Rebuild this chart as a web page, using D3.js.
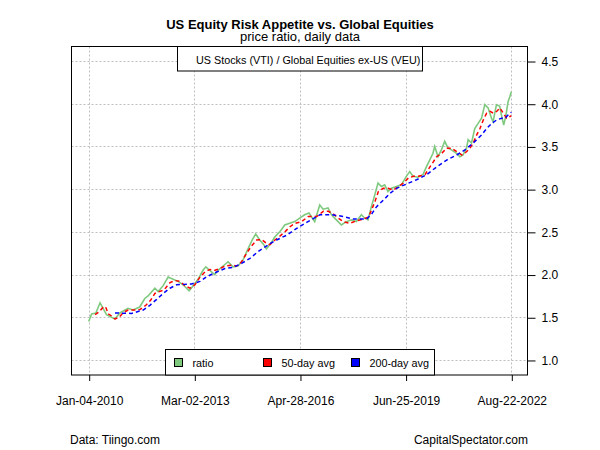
<!DOCTYPE html>
<html lang="en">
<head>
    <meta charset="UTF-8">
    <title>US Equity Risk Appetite vs. Global Equities</title>
    <style>
        body {
            margin: 0;
            background: #fff;
            font-family: "Liberation Sans", Arial, sans-serif;
        }
        .grid line {
            stroke: #bebebe;
            stroke-dasharray: 2,2;
        }
        .axis text {
            font-size: 12px;
            fill: #000;
        }
    </style>
</head>
<body>
    <svg width="600" height="450"></svg>

    <script src="https://d3js.org/d3.v7.min.js"></script>
    <script>
        // ratio of VTI / VEU
        const ratioDates = ["2010-01-04","2010-02-05","2010-03-23","2010-05-08","2010-06-10","2010-07-17","2010-08-22","2010-10-16","2010-12-10","2011-03-09","2011-05-03","2011-07-15","2011-09-08","2011-10-14","2011-12-27","2012-02-01","2012-03-27","2012-05-20","2012-07-13","2012-09-06","2012-10-30","2013-01-04","2013-02-17","2013-04-12","2013-06-05","2013-07-05","2013-08-17","2013-10-11","2013-11-16","2014-01-10","2014-03-05","2014-04-28","2014-06-22","2014-08-15","2014-10-09","2014-11-26","2015-01-01","2015-02-14","2015-03-30","2015-04-28","2015-06-11","2015-07-28","2015-09-21","2015-11-14","2016-01-07","2016-03-02","2016-04-25","2016-06-18","2016-08-05","2016-10-06","2016-11-30","2017-01-05","2017-03-01","2017-04-07","2017-05-31","2017-07-24","2017-09-17","2017-11-10","2018-01-04","2018-02-28","2018-04-05","2018-05-11","2018-06-17","2018-07-23","2018-08-28","2018-10-04","2018-11-09","2018-12-15","2019-01-21","2019-03-16","2019-05-10","2019-07-03","2019-08-09","2019-09-14","2019-11-07","2020-01-01","2020-02-07","2020-03-14","2020-04-19","2020-05-08","2020-06-13","2020-07-20","2020-08-25","2020-10-01","2020-11-07","2021-01-01","2021-02-06","2021-03-14","2021-04-20","2021-05-08","2021-06-14","2021-07-19","2021-08-25","2021-10-01","2021-11-06","2021-12-12","2022-01-18","2022-02-04","2022-03-13","2022-04-18","2022-05-06","2022-05-31","2022-06-22","2022-07-17","2022-08-05","2022-08-22"];
        const ratioValues = [1.45,1.54,1.55,1.67,1.605,1.53,1.51,1.48,1.55,1.605,1.585,1.62,1.72,1.75,1.84,1.80,1.87,1.97,1.945,1.92,1.88,1.81,1.87,1.945,2.05,2.09,2.05,2.00,2.05,2.10,2.15,2.09,2.10,2.17,2.30,2.41,2.475,2.405,2.35,2.30,2.36,2.44,2.50,2.58,2.60,2.62,2.66,2.70,2.72,2.62,2.815,2.765,2.78,2.70,2.64,2.58,2.62,2.64,2.62,2.70,2.66,2.64,2.795,2.93,3.07,3.03,3.05,2.97,3.01,3.03,3.05,3.15,3.205,3.15,3.14,3.17,3.26,3.34,3.42,3.50,3.38,3.46,3.56,3.48,3.46,3.42,3.38,3.40,3.48,3.58,3.54,3.71,3.77,3.83,3.99,3.95,3.83,3.79,3.99,3.97,3.87,3.75,3.85,4.02,4.08,4.14];

        // 50-day average
        const ma50Dates = ["2010-03-15","2010-04-29","2010-06-12","2010-07-08","2010-08-05","2010-09-11","2010-10-18","2010-12-03","2011-01-16","2011-03-11","2011-05-23","2011-07-17","2011-09-20","2011-11-11","2011-12-28","2012-02-13","2012-04-05","2012-06-09","2012-08-03","2012-09-26","2012-11-20","2013-01-14","2013-03-09","2013-05-03","2013-06-26","2013-08-20","2013-10-13","2013-12-07","2014-01-31","2014-04-13","2014-06-07","2014-07-31","2014-09-24","2014-11-17","2015-01-11","2015-03-07","2015-04-23","2015-06-05","2015-07-30","2015-09-22","2015-11-16","2016-01-10","2016-03-04","2016-05-17","2016-07-28","2016-10-28","2017-01-08","2017-03-03","2017-04-27","2017-06-20","2017-08-14","2017-10-26","2018-01-08","2018-03-20","2018-05-14","2018-06-20","2018-07-26","2018-08-31","2018-10-24","2018-12-18","2019-02-11","2019-04-07","2019-05-31","2019-07-25","2019-09-17","2019-11-11","2020-01-23","2020-03-17","2020-04-23","2020-05-29","2020-07-24","2020-09-15","2020-11-09","2021-01-03","2021-02-27","2021-04-03","2021-05-28","2021-07-03","2021-08-09","2021-09-14","2021-10-20","2021-11-26","2022-01-02","2022-02-07","2022-03-15","2022-04-20","2022-05-26","2022-07-02","2022-08-07","2022-08-22"];
        const ma50Values = [1.53,1.565,1.62,1.62,1.54,1.515,1.48,1.50,1.555,1.585,1.585,1.59,1.64,1.70,1.78,1.80,1.82,1.905,1.93,1.92,1.87,1.84,1.88,1.97,2.03,2.06,2.05,2.07,2.10,2.11,2.10,2.15,2.25,2.335,2.405,2.41,2.37,2.35,2.405,2.45,2.50,2.56,2.60,2.62,2.68,2.68,2.74,2.74,2.71,2.66,2.62,2.60,2.63,2.65,2.67,2.76,2.855,2.97,3.01,3.01,2.99,3.03,3.07,3.13,3.15,3.15,3.17,3.26,3.32,3.38,3.42,3.48,3.48,3.44,3.40,3.42,3.48,3.54,3.635,3.71,3.81,3.89,3.91,3.89,3.91,3.95,3.89,3.83,3.85,3.86];

        // 200-day average
        const ma200Dates = ["2010-10-18","2011-04-18","2011-08-22","2011-11-03","2012-01-16","2012-03-28","2012-06-09","2012-08-21","2012-11-01","2013-02-01","2013-05-03","2013-07-15","2013-11-01","2014-01-31","2014-05-01","2014-07-31","2014-10-30","2015-01-29","2015-03-24","2015-06-05","2015-08-17","2015-12-04","2016-03-23","2016-07-10","2016-12-02","2017-04-09","2017-08-14","2017-12-01","2018-04-26","2018-06-20","2018-08-13","2018-10-24","2019-01-06","2019-03-19","2019-07-06","2019-10-23","2020-02-10","2020-05-29","2020-09-15","2021-01-03","2021-04-03","2021-07-03","2021-10-02","2021-11-26","2022-01-20","2022-03-15","2022-05-09","2022-06-14","2022-07-20","2022-08-22"];
        const ma200Values = [1.55,1.545,1.585,1.64,1.71,1.78,1.84,1.88,1.885,1.89,1.92,1.975,2.03,2.07,2.085,2.13,2.19,2.27,2.31,2.36,2.405,2.46,2.54,2.61,2.70,2.70,2.68,2.65,2.65,2.71,2.795,2.87,2.95,3.01,3.06,3.11,3.17,3.26,3.34,3.40,3.46,3.54,3.635,3.71,3.77,3.81,3.83,3.83,3.87,3.90];

        const xTicks = ["2010-01-04","2013-03-02","2016-04-28","2019-06-25","2022-08-22"];
        const yTicks = [1.0,1.5,2.0,2.5,3.0,3.5,4.0,4.5];

        const legendNames = ["ratio","50-day avg","200-day avg"];
        const colors = ["#7fc97f","#ff0000","#0000ff"];

        const width = 600, height = 450;
        const box = {left: 71.5, right: 527.5, top: 46.5, bottom: 375};

        const parse = d3.timeParse("%Y-%m-%d");
        const zip = (ds, vs) => ds.map((d, i) => ({date: parse(d), value: vs[i]}));
        const ratio = zip(ratioDates, ratioValues);
        const ma50 = zip(ma50Dates, ma50Values);
        const ma200 = zip(ma200Dates, ma200Values);

        const svg = d3.select("svg");

        // first and last tick sit at the data ends, frame adds 4% each side
        const x = d3.scaleTime()
            .domain([parse(xTicks[0]), parse(xTicks[xTicks.length - 1])])
            .range([88.7, 511.3]);
        const y = d3.scaleLinear()
            .domain([0.824, 4.67])
            .range([box.bottom, box.top]);

        // grid
        const grid = svg.append("g").attr("class", "grid");
        grid.selectAll(".gx")
            .data(xTicks.map(parse))
            .enter().append("line")
            .attr("x1", d => Math.round(x(d)) + 0.5)
            .attr("x2", d => Math.round(x(d)) + 0.5)
            .attr("y1", box.top)
            .attr("y2", box.bottom);
        grid.selectAll(".gy")
            .data(yTicks)
            .enter().append("line")
            .attr("x1", box.left)
            .attr("x2", box.right)
            .attr("y1", d => Math.round(y(d)) + 0.5)
            .attr("y2", d => Math.round(y(d)) + 0.5);

        const line = d3.line()
            .x(d => x(d.date))
            .y(d => y(d.value));

        svg.append("path")
            .datum(ratio)
            .attr("fill", "none")
            .attr("stroke", colors[0])
            .attr("stroke-width", 1.6)
            .attr("d", line);

        svg.append("path")
            .datum(ma50)
            .attr("fill", "none")
            .attr("stroke", colors[1])
            .attr("stroke-width", 1.5)
            .attr("stroke-dasharray", "4,3")
            .attr("d", line);

        svg.append("path")
            .datum(ma200)
            .attr("fill", "none")
            .attr("stroke", colors[2])
            .attr("stroke-width", 1.5)
            .attr("stroke-dasharray", "4,3")
            .attr("d", line);

        // frame
        svg.append("rect")
            .attr("x", box.left)
            .attr("y", box.top)
            .attr("width", box.right - box.left)
            .attr("height", box.bottom - box.top)
            .attr("fill", "none")
            .attr("stroke", "#000");

        // axes
        const xAxis = svg.append("g")
            .attr("class", "axis")
            .attr("transform", `translate(0.5,${box.bottom})`)
            .call(d3.axisBottom(x)
                .tickValues(xTicks.map(parse))
                .tickFormat(d3.timeFormat("%b-%d-%Y"))
                .tickSize(6)
                .tickPadding(15));
        xAxis.select(".domain").remove();

        const yAxis = svg.append("g")
            .attr("class", "axis")
            .attr("transform", `translate(${box.right},0.5)`)
            .call(d3.axisRight(y)
                .tickValues(yTicks)
                .tickFormat(d3.format(".1f"))
                .tickSize(8)
                .tickPadding(6));
        yAxis.select(".domain").remove();
        xAxis.selectAll("line").attr("stroke", "#000");
        yAxis.selectAll("line").attr("stroke", "#000");

        // titles
        svg.append("text")
            .attr("x", width / 2)
            .attr("y", 29)
            .attr("text-anchor", "middle")
            .attr("font-size", 13)
            .attr("font-weight", "bold")
            .text("US Equity Risk Appetite vs. Global Equities");
        svg.append("text")
            .attr("x", width / 2)
            .attr("y", 41)
            .attr("text-anchor", "middle")
            .attr("font-size", 13)
            .text("price ratio, daily data");

        // top legend
        svg.append("rect")
            .attr("x", 177.5)
            .attr("y", box.top)
            .attr("width", 245)
            .attr("height", 24.5)
            .attr("fill", "#fff")
            .attr("stroke", "#000");
        svg.append("text")
            .attr("x", 196)
            .attr("y", 64)
            .attr("font-size", 10.8)
            .text("US Stocks (VTI) / Global Equities ex-US (VEU)");

        // bottom legend
        svg.append("rect")
            .attr("x", 165.5)
            .attr("y", 349.5)
            .attr("width", 269)
            .attr("height", box.bottom - 349.5)
            .attr("fill", "#fff")
            .attr("stroke", "#000");
        const legendX = [174.5, 263.5, 351.5];
        const leg = svg.append("g").selectAll("g")
            .data(legendNames)
            .enter().append("g")
            .attr("transform", (d, i) => `translate(${legendX[i]},358.5)`);
        leg.append("rect")
            .attr("width", 8)
            .attr("height", 8)
            .attr("fill", (d, i) => colors[i])
            .attr("stroke", "#000");
        leg.append("text")
            .attr("x", 18)
            .attr("y", 8)
            .attr("font-size", 10.8)
            .text(d => d);

        // footer
        svg.append("text")
            .attr("x", 70)
            .attr("y", 444)
            .attr("font-size", 12)
            .text("Data: Tiingo.com");
        svg.append("text")
            .attr("x", 528)
            .attr("y", 444)
            .attr("text-anchor", "end")
            .attr("font-size", 12)
            .text("CapitalSpectator.com");
    </script>
</body>
</html>
